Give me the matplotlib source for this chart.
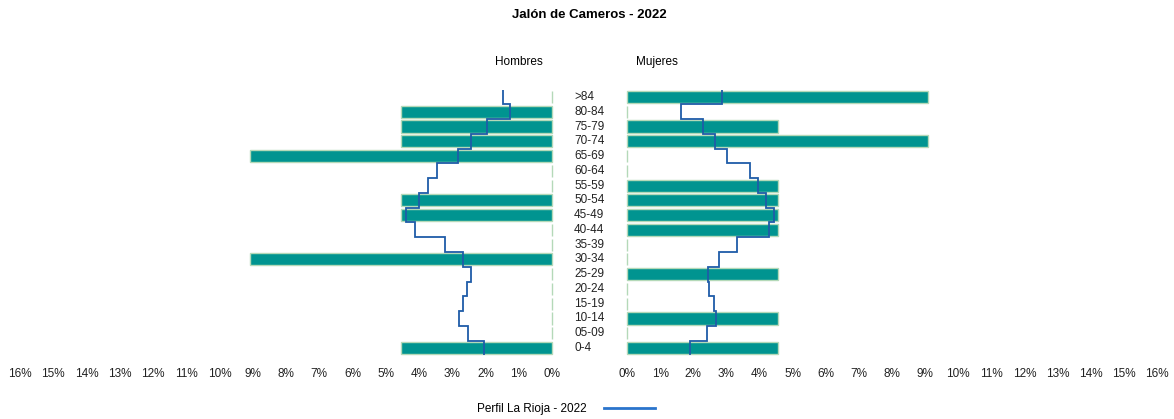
import numpy as np
import matplotlib.pyplot as plt
from matplotlib.lines import Line2D
from matplotlib.ticker import FuncFormatter

plt.rcParams['font.family'] = ['Liberation Sans', 'DejaVu Sans']

# age groups, bottom to top
ages = ['0-4', '05-09', '10-14', '15-19', '20-24', '25-29', '30-34', '35-39', '40-44',
        '45-49', '50-54', '55-59', '60-64', '65-69', '70-74', '75-79', '80-84', '>84']

# Jalón de Cameros 2022, % of total population
hombres = [4.545, 0, 0, 0, 0, 0, 9.09, 0, 0, 4.545, 4.545, 0, 0, 9.09, 4.545, 4.545, 4.545, 0]
mujeres = [4.545, 0, 4.545, 0, 0, 4.545, 0, 0, 4.545, 4.545, 4.545, 4.545, 0, 0, 9.09, 4.545, 0, 9.09]

# Perfil La Rioja 2022, %
rioja_h = [2.04, 2.54, 2.81, 2.69, 2.55, 2.44, 2.69, 3.22, 4.13, 4.39, 4.01, 3.74, 3.47, 2.82, 2.44, 1.96, 1.26, 1.48]
rioja_m = [1.91, 2.41, 2.70, 2.64, 2.48, 2.44, 2.79, 3.33, 4.30, 4.44, 4.19, 3.95, 3.72, 3.02, 2.65, 2.30, 1.63, 2.86]

bar_color = '#009490'
edge_color = '#b4d9b8'
line_color = '#1f5ca8'

fig = plt.figure(figsize=(11.74, 4.19), dpi=100)
bottom, height = 0.1518, 0.6344
ax_h = fig.add_axes([0.01704, bottom, 0.4532, height])
ax_m = fig.add_axes([0.5341, bottom, 0.4514, height])

y = np.arange(len(ages))
edges = np.arange(len(ages) + 1) - 0.5
pct = FuncFormatter(lambda v, p: f'{v:.0f}%')

for ax, vals, prof in [(ax_h, hombres, rioja_h), (ax_m, mujeres, rioja_m)]:
    bars = ax.barh(y, vals, height=0.82, color=bar_color, edgecolor=edge_color, linewidth=1)
    for b in bars:
        b.set_clip_on(False)
    ax.stairs(prof, edges, orientation='horizontal', baseline=None,
              color=line_color, linewidth=1.3)
    ax.set_xlim(0, 16)
    ax.set_ylim(-0.5, len(ages) - 0.5)
    ax.set_xticks(np.arange(0, 17, 1))
    ax.xaxis.set_major_formatter(pct)
    ax.set_yticks([])
    ax.tick_params(axis='x', length=0, pad=9, labelsize=8.5, colors='#222222')
    for s in ax.spines.values():
        s.set_visible(False)

ax_h.invert_xaxis()

for i, a in enumerate(ages):
    ax_m.annotate(a, xy=(0, i), xycoords=('axes fraction', 'data'),
                  xytext=(-53, 0), textcoords='offset pixels',
                  ha='left', va='center', fontsize=8.5, color='#222222')

fig.text(519 / 1174, 1 - 62 / 419, 'Hombres', ha='center', va='center', fontsize=8.5)
fig.text(657 / 1174, 1 - 62 / 419, 'Mujeres', ha='center', va='center', fontsize=8.5)
fig.text(589 / 1174, 1 - 15 / 419, 'Jalón de Cameros - 2022', ha='center', va='center',
         fontsize=9.5, fontweight='bold')

handle = Line2D([], [], color='#2a74cc', linewidth=2)
fig.legend([handle], ['Perfil La Rioja - 2022'], loc='center',
           bbox_to_anchor=(566 / 1174, 1 - 409 / 419), frameon=False,
           markerfirst=False, handlelength=4.3, handletextpad=1.5, fontsize=8.5)

fig.savefig('out.png', dpi=100)
